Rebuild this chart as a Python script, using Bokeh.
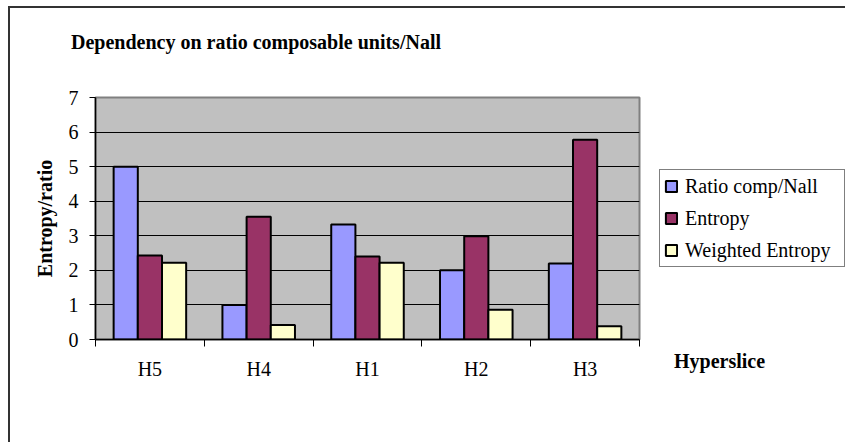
import numpy as np
from bokeh.plotting import figure
from bokeh.layouts import column
from bokeh.models import (Range1d, FixedTicker, Legend, LegendItem, Div)
from bokeh.embed import file_html
from bokeh.resources import INLINE

# ---- data ----
categories = ["H5", "H4", "H1", "H2", "H3"]
ratio_comp_nall = [5.0, 1.0, 3.33, 2.0, 2.2]
entropy = [2.43, 3.55, 2.40, 2.99, 5.78]
weighted_entropy = [2.22, 0.42, 2.22, 0.86, 0.385]
series_names = ["Ratio comp/Nall", "Entropy", "Weighted Entropy"]
y_ticks = [0, 1, 2, 3, 4, 5, 6, 7]
chart_title = "Dependency on ratio composable units/Nall"
x_title = "Hyperslice"
y_title = "Entropy/ratio"

FONT = "Liberation Serif"
colors = ["#9999FF", "#993366", "#FFFFCC"]

p = figure(frame_width=544, frame_height=242, output_backend="svg", toolbar_location=None,
           x_range=Range1d(0, len(categories)), y_range=Range1d(0, 7))
p.min_border = 0
p.min_border_left = 95
p.min_border_right = 206
p.min_border_top = 97
p.min_border_bottom = 103

p.background_fill_color = "#C0C0C0"
p.border_fill_color = "white"
p.border_fill_alpha = 0
p.outline_line_color = "#808080"
p.outline_line_width = 2
# outer chart border (left and top edges visible in the window)
p.styles = {"box-shadow": "inset 8px 6px 0 0 white, inset 10px 8px 0 0 #333333",
            "background-color": "white"}

centers = np.arange(len(categories)) + 0.5
bw = 1 / 4.5
renderers = []
for k, (vals, col) in enumerate(zip([ratio_comp_nall, entropy, weighted_entropy], colors)):
    r = p.vbar(x=centers + (k - 1) * bw, top=vals, width=bw, bottom=0,
               fill_color=col, line_color="black", line_width=2)
    renderers.append(r)

# grid
p.xgrid.visible = False
p.ygrid.ticker = FixedTicker(ticks=y_ticks[1:-1])
p.ygrid.grid_line_color = "black"
p.ygrid.grid_line_width = 1

# y axis
p.yaxis.ticker = FixedTicker(ticks=y_ticks)
p.yaxis.axis_line_color = "black"
p.yaxis.axis_line_width = 1.5
p.yaxis.major_tick_out = 6
p.yaxis.major_tick_in = 0
p.yaxis.minor_tick_out = 0
p.yaxis.minor_tick_in = 0
p.yaxis.major_label_standoff = 11
p.yaxis.major_label_text_font = FONT
p.yaxis.major_label_text_font_size = "20px"
p.yaxis.major_label_text_color = "black"
p.yaxis.axis_label = y_title
p.yaxis.axis_label_text_font = FONT
p.yaxis.axis_label_text_font_size = "20px"
p.yaxis.axis_label_text_font_style = "bold"
p.yaxis.axis_label_text_color = "black"
p.yaxis.axis_label_standoff = 10

# x axis
p.xaxis.ticker = FixedTicker(ticks=list(centers),
                             minor_ticks=list(range(len(categories) + 1)))
p.xaxis.major_label_overrides = {float(c): lab for c, lab in zip(centers, categories)}
p.xaxis.axis_line_color = "black"
p.xaxis.axis_line_width = 1.5
p.xaxis.major_tick_out = 0
p.xaxis.major_tick_in = 0
p.xaxis.minor_tick_out = 7
p.xaxis.minor_tick_in = 0
p.xaxis.minor_tick_line_color = "black"
p.xaxis.major_label_standoff = 11
p.xaxis.major_label_text_font = FONT
p.xaxis.major_label_text_font_size = "20px"
p.xaxis.major_label_text_color = "black"

# legend (right panel)
items = [LegendItem(label=n, renderers=[r]) for n, r in zip(series_names, renderers)]
legend = Legend(items=items, location="center_left")
legend.label_text_font = FONT
legend.label_text_font_size = "20px"
legend.label_text_color = "black"
legend.glyph_width = 14
legend.glyph_height = 14
legend.label_standoff = 7
legend.label_height = 24
legend.label_width = 155
legend.padding = 4
legend.spacing = 8
legend.margin = 20
legend.border_line_color = "black"
legend.border_line_width = 1
legend.background_fill_color = "white"
legend.background_fill_alpha = 1
p.add_layout(legend, "right")

# chart title and x axis caption
text_style = {"position": "absolute", "font-family": FONT, "font-size": "20px",
              "font-weight": "bold", "color": "black", "line-height": "1",
              "white-space": "nowrap"}
title_div = Div(text=chart_title, styles={**text_style, "left": "66px", "top": "27px"})
cap = Div(text=x_title, styles={**text_style, "left": "669px", "top": "346px"})

layout = column(p, title_div, cap)
open("out.html", "w").write(file_html(layout, INLINE))
